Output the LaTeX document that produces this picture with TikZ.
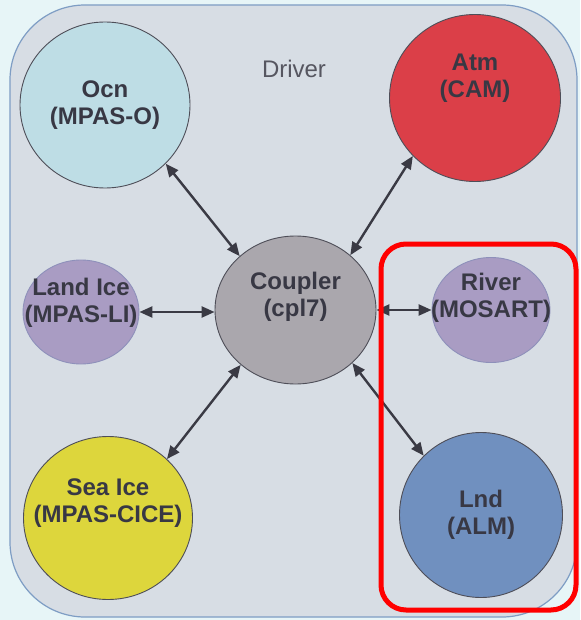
\documentclass[tikz,border=0pt]{standalone}
\usepackage{fontspec}
\setmainfont{Liberation Sans}
\usetikzlibrary{arrows.meta,shapes.geometric}

\definecolor{bgcyan}{HTML}{E7F5F7}
\definecolor{boxfill}{HTML}{D7DDE4}
\definecolor{boxline}{HTML}{7E9DC4}
\definecolor{ocnfill}{HTML}{BEDDE5}
\definecolor{atmfill}{HTML}{DB3F48}
\definecolor{cplfill}{HTML}{AAA7AD}
\definecolor{purplefill}{HTML}{A99CC3}
\definecolor{purpleline}{HTML}{8E90BA}
\definecolor{icefill}{HTML}{DDD63C}
\definecolor{lndfill}{HTML}{7090BF}
\definecolor{compline}{HTML}{4E4E58}
\definecolor{labeltext}{HTML}{383844}
\definecolor{arrowgray}{HTML}{3A3A44}

\begin{document}
\begin{tikzpicture}[x=1pt,y=-1pt,
  comp/.style={ellipse,draw=compline,line width=0.9pt,inner sep=0pt},
  lbl/.style={font=\bfseries\fontsize{24}{27}\selectfont,text=labeltext,align=center},
  link/.style={{Triangle[length=13pt,width=11pt]}-{Triangle[length=13pt,width=11pt]},line width=2.4pt,draw=arrowgray}]
\useasboundingbox (0,0) rectangle (580,620);
\fill[bgcyan] (0,0) rectangle (580,620);
% driver box
\draw[fill=boxfill,draw=boxline,line width=1.2pt,rounded corners=75pt] (10,5) rectangle (577,617);
\node[font=\fontsize{24}{27}\selectfont,text=labeltext!85] (drv) at (294,69) {Driver};
% components
\node[comp,fill=ocnfill,minimum width=170pt,minimum height=166pt,
  label={[lbl]center:{Ocn\\(MPAS-O)}}] (ocn) at (105,105) {};
\node[comp,fill=atmfill,minimum width=171pt,minimum height=167pt,
  label={[lbl,yshift=20pt]center:{Atm\\(CAM)}}] (atm) at (475,98) {};
\node[comp,fill=cplfill,minimum width=161pt,minimum height=148pt,
  label={[lbl,yshift=13pt]center:{Coupler\\(cpl7)}}] (cpl) at (295.5,310) {};
\node[comp,fill=purplefill,draw=purpleline,minimum width=116pt,minimum height=104pt,
  label={[lbl,yshift=9pt]center:{Land Ice\\(MPAS-LI)}}] (lice) at (81,312) {};
\node[comp,fill=purplefill,draw=purpleline,minimum width=118pt,minimum height=105pt,
  label={[lbl,yshift=12pt]center:{River\\(MOSART)}}] (rof) at (491,310) {};
\node[comp,fill=icefill,minimum width=169pt,minimum height=163pt,
  label={[lbl,yshift=15pt]center:{Sea Ice\\(MPAS-CICE)}}] (sice) at (108,518) {};
\node[comp,fill=lndfill,minimum width=163pt,minimum height=165pt,
  label={[lbl]center:{Lnd\\(ALM)}}] (lnd) at (481,515) {};
% couplings
\draw[link] (ocn.-44) -- (cpl.136);
\draw[link] (atm.-137) -- (cpl.45);
\draw[link] (lice.east) -- (lice.east -| cpl.west);
\draw[link] (cpl.east) -- (rof.west);
\draw[link] (sice.45) -- (cpl.-135);
\draw[link] (lnd.134) -- (cpl.-43);
% land components
\draw[red,line width=5pt,rounded corners=25pt] (381,244) rectangle (576,610);
\end{tikzpicture}
\end{document}
